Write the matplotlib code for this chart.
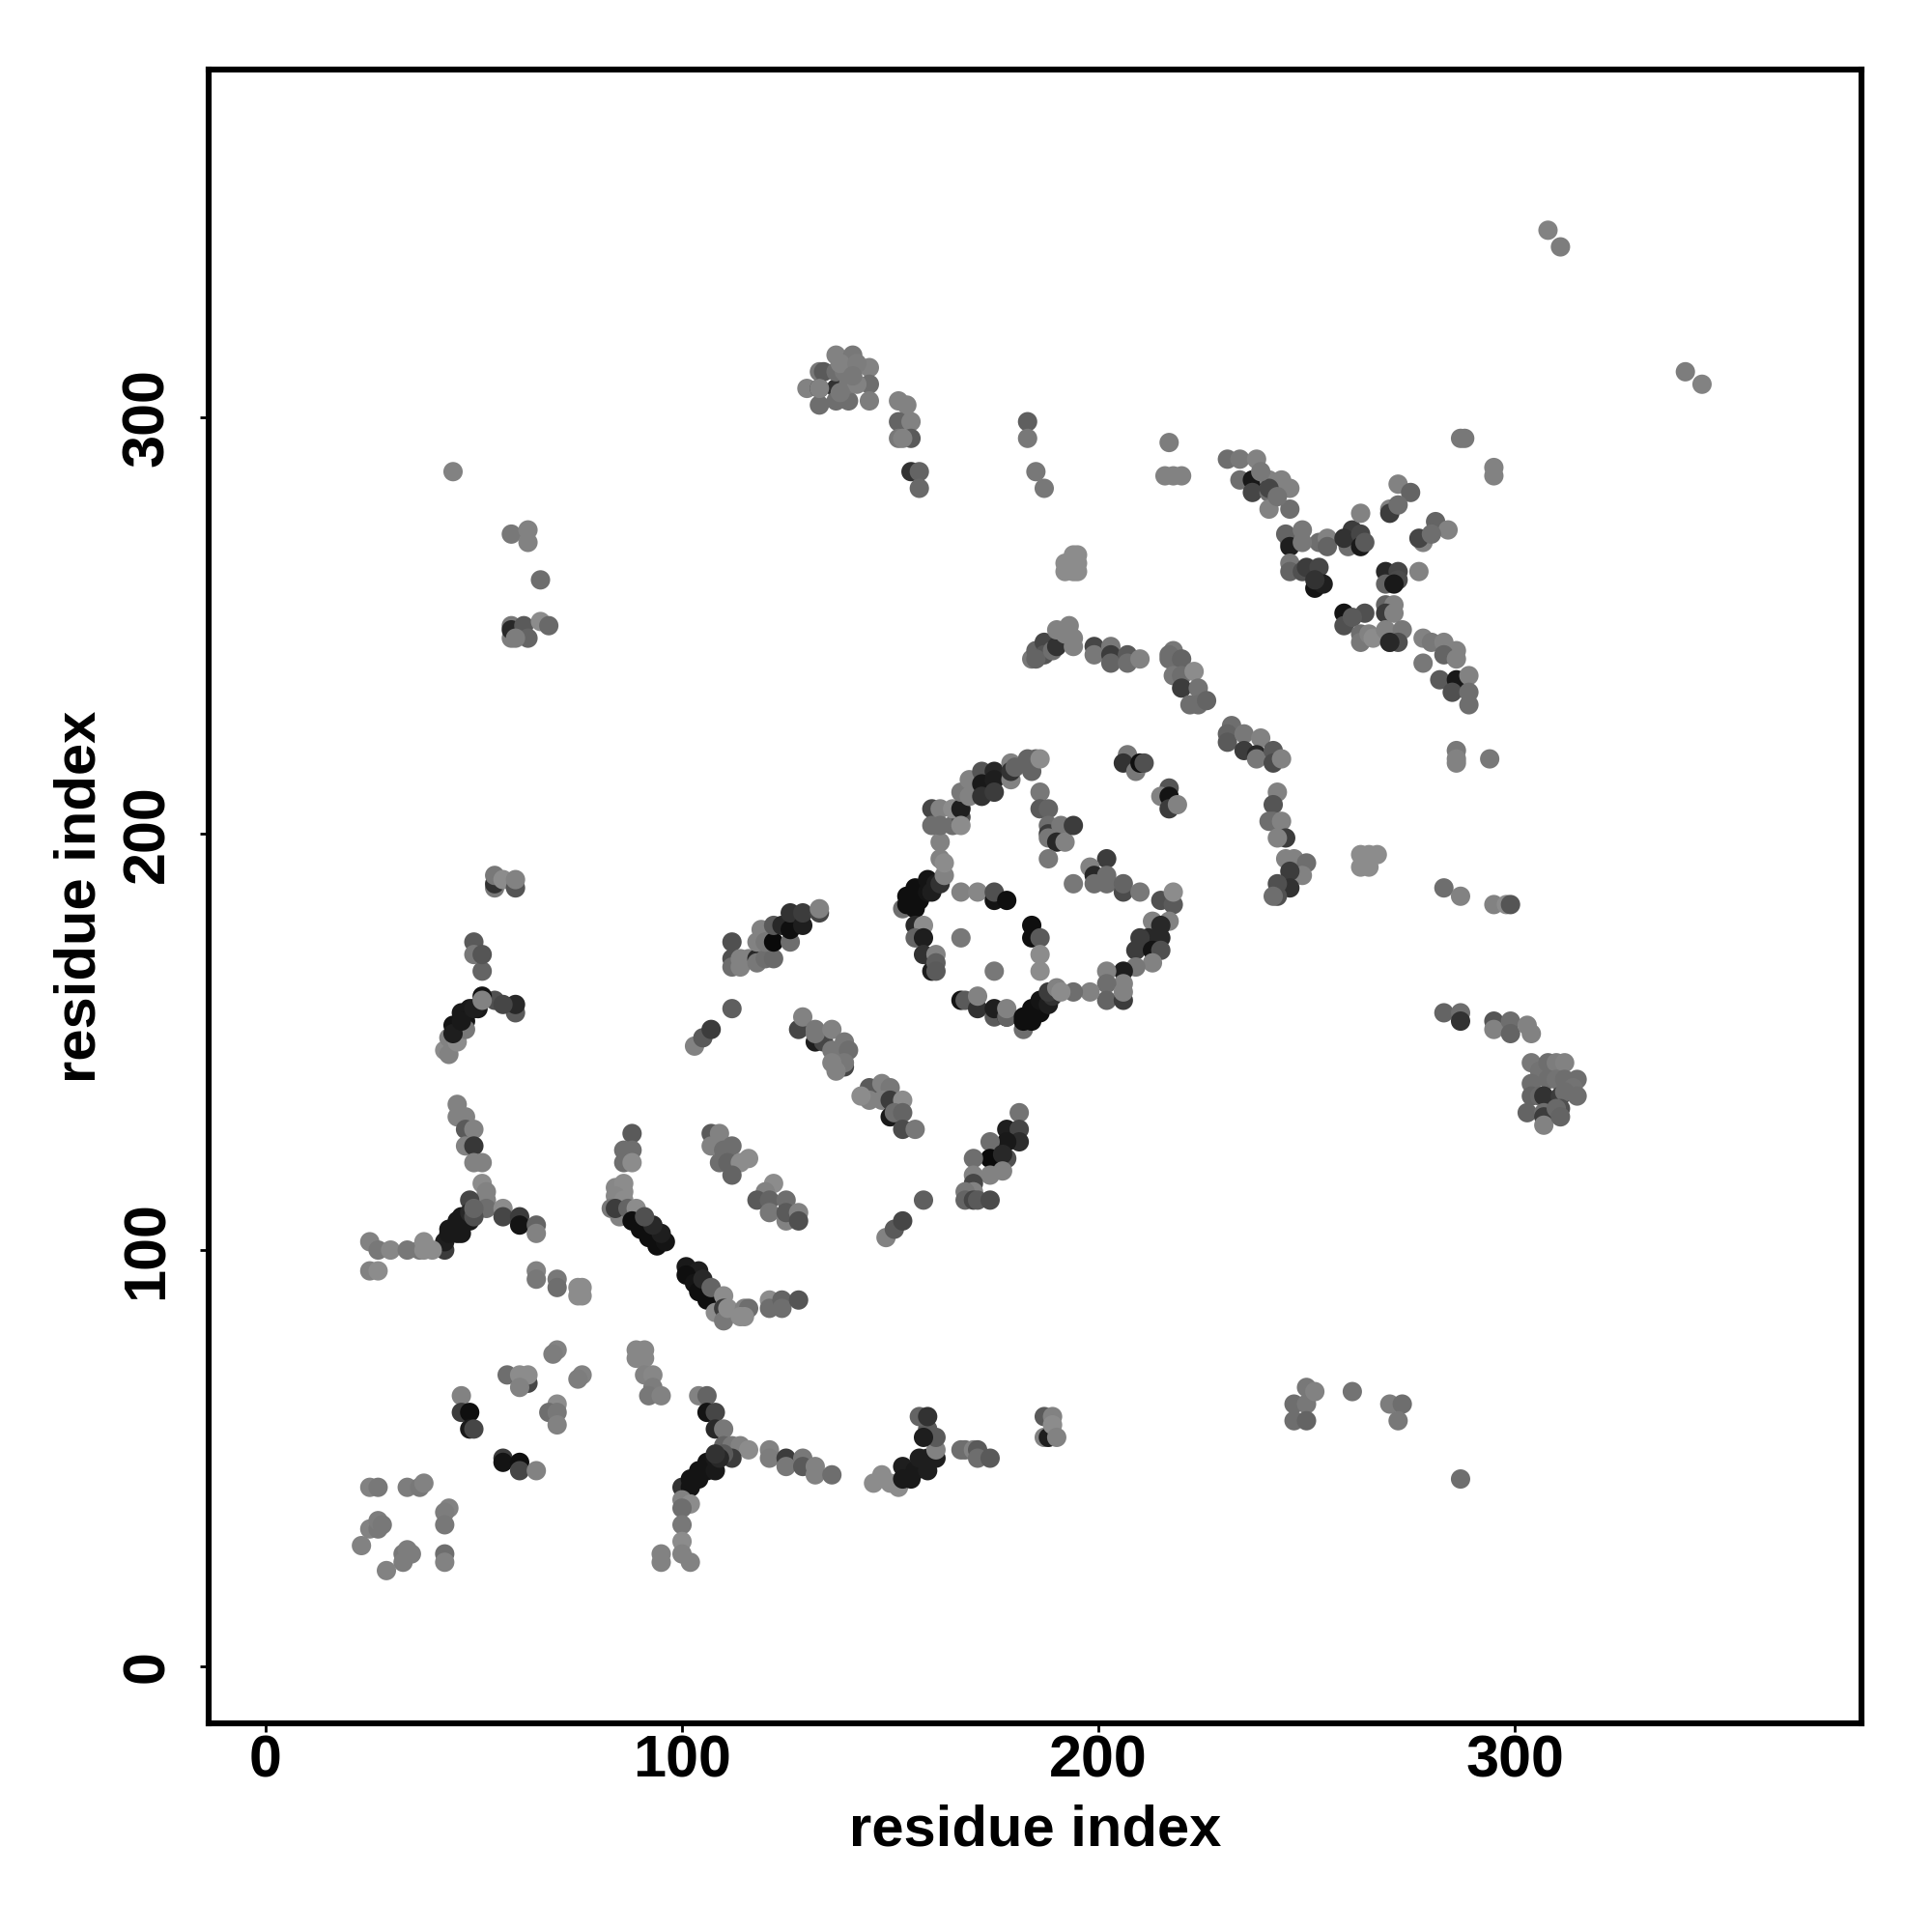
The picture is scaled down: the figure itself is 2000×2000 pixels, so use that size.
import matplotlib
matplotlib.use("Agg")
import matplotlib.pyplot as plt
import numpy as np

# contacts, grouped by region: x residue, y residue, grey level
x_sparse = [308,311,341,345,45,59,63,63,66,217,216,218,220,287,288,295,295,183,183,185,187,155,157,157,
            287,247,247,250,250,250,252,261,270,273,272,283,287,295,298,299,286,286,286,294]
y_sparse = [345,341,311,308,287,272,270,273,261,294,286,286,286,295,295,288,286,299,295,287,283,287,287,283,
            45,63,59,63,59,67,66,66,63,63,59,187,185,183,183,183,220,218,217,218]
g_sparse = [130,125,125,130,130,120,130,130,110,125,130,130,130,120,120,130,130,95,120,120,120,50,100,105,
            110,110,110,120,100,120,130,115,125,110,120,110,130,130,140,85,120,130,130,120]

x_topleft = [130,133,134,133,133,137,137,133,137,139,141,137,140,140,145,145,145,142,138,142,141,138,152,154,152,155,152,155,153]
y_topleft = [307,311,311,307,303,307,311,307,315,311,315,304,304,308,312,308,304,308,313,313,310,306,304,303,299,299,295,295,295]
g_topleft = [130,120,90,60,110,50,110,130,130,120,120,110,110,120,130,110,125,130,130,125,120,120,130,130,100,130,120,90,130]

x_stem_left = [59,59,59,62,63,66,68,60,55,55,55,57,60,60,50,50,52,52]
y_stem_left = [250,247,249,250,247,251,250,247,187,188,190,189,187,189,174,171,167,171]
g_stem_left = [120,125,40,90,100,140,105,125,120,50,120,140,85,130,90,120,100,85]

x_bend = [43,44,44,46,60,60,55,57,52,49,47,45,51,48,48,45,47,50,52]
y_bend = [148,147,151,150,157,159,160,159,161,158,157,154,158,155,153,152,155,158,160]
g_bend = [140,130,130,140,90,40,80,70,20,25,25,20,25,20,120,30,25,30,130]

x_yleft = [46,46,48,48,50,48,50,50,52,52,53,53,53,49,57,57,61,61,65,65,
           43,43,44,44,46,46,47,47,49,49,50,50,
           25,27,30,34,37,38,38,40,25,27,65,65,70,70,75,76,75,76]
y_yleft = [135,132,132,129,129,125,125,121,121,116,114,112,110,112,110,108,108,106,106,104,
           100,102,104,105,104,107,104,108,107,109,108,110,
           102,100,100,100,100,102,100,100,95,95,95,93,93,91,91,91,89,89]
g_yleft = [130,130,130,90,130,130,55,130,130,140,130,130,110,70,140,70,60,20,100,130,
           60,30,25,25,25,25,25,25,25,40,80,100,
           130,120,135,120,120,140,140,140,130,140,130,120,120,110,140,140,140,140]

x_lowleft = [70,69,76,75,58,63,61,63,61,70,68,70,70,47,47,49,49,50,57,57,61,61,65,
             25,27,34,37,38,44,43,43,25,27,27,28,23,33,34,35,33,29,43,43]
y_lowleft = [76,75,70,69,70,68,70,70,67,63,61,61,58,65,61,61,57,57,50,49,49,47,47,
             43,43,43,43,44,38,37,34,33,33,35,34,29,27,28,27,25,23,27,25]
g_lowleft = [130,125,130,125,110,70,140,140,130,140,110,120,130,130,60,15,25,70,60,20,15,70,130,
             130,120,125,120,130,130,125,120,130,120,125,120,130,120,125,125,125,130,110,130]

x_gap = [89,91,89,91,91,93,93,92,95]
y_gap = [76,76,74,74,70,70,67,65,65]
g_gap = [135,135,135,135,130,135,125,120,130]

x_band = [88,86,88,86,88,84,86,86,84,86,83,85,84,87,89,
          88,90,92,94,96,95,93,91,
          101,104,101,103,104,106,105,107,110,108,110,110,111,115,116,114,115,
          121,121,124,124,128]
y_band = [128,124,124,121,121,115,116,114,113,112,110,108,110,110,110,
          107,105,103,101,102,104,106,108,
          96,95,94,92,90,88,93,91,89,85,86,83,86,86,86,84,84,
          88,86,88,86,88]
g_band = [90,110,110,110,140,135,140,140,135,140,120,130,60,100,140,
          15,15,15,15,20,30,40,80,
          25,30,15,20,15,15,40,100,140,140,60,120,140,130,110,140,140,
          140,110,100,110,85]

x_arc1 = [107,109,107,112,110,109,111,114,116,112,122,120,118,121,125,121,125,125,128,128]
y_arc1 = [128,128,125,125,124,121,121,121,122,118,116,114,112,112,112,109,107,109,109,107]
g_arc1 = [90,130,130,110,110,110,100,140,140,100,140,130,90,100,110,120,130,90,130,80]

x_yright = [104,106,106,108,108,110,110,112,114,116,112,110,
            100,102,102,104,104,106,106,108,108,109,108,
            100,102,100,100,100,100,102,95,95,
            121,121,125,125,129,129,132,132,136]
y_yright = [65,65,61,61,57,57,53,53,53,52,50,51,
            43,43,45,45,47,47,49,47,50,50,51,
            40,39,38,34,30,27,25,27,25,
            52,50,50,48,50,48,48,46,46]
g_yright = [130,100,20,70,40,120,100,120,130,140,60,90,
            50,20,20,20,20,20,20,25,25,40,50,
            130,140,110,120,140,130,130,130,130,
            130,125,60,120,120,90,130,130,110]

x_bottom = [146,148,150,152,153,153,155,156,157,159,161,159,161,161,159,157,159,158,
            167,168,170,171,171,174,187,189,187,188,189,190]
y_bottom = [44,46,44,43,48,45,45,47,50,47,50,50,52,55,57,60,60,55,
            52,52,52,52,50,50,60,60,55,55,58,55]
g_bottom = [140,140,140,140,30,25,25,25,30,30,30,30,130,90,90,100,50,30,
            110,110,130,90,110,90,90,130,130,30,140,130]

x_cross = [181,178,181,181,178,174,174,178,177,177,174,170,170,170,170,168,168,170,171,174,158,149,151,153]
y_cross = [133,129,129,126,126,126,122,122,123,119,118,122,118,116,114,114,112,112,112,112,112,103,105,107]
g_cross = [115,30,70,45,25,110,10,80,40,130,130,110,130,70,130,120,100,70,90,75,95,130,90,70]

x_fan = [103,105,107,112,112,112,112,114,114,116,118,118,120,122,119,118,120,122,122,124,126,126,126,129,129,133,133]
y_fan = [149,151,153,158,174,170,168,168,170,170,170,169,170,170,177,174,174,174,178,178,174,177,181,178,181,181,182]
g_fan = [130,90,60,95,80,80,110,130,130,130,40,120,110,105,130,130,120,10,90,40,110,15,50,30,60,70,130]

x_mid = [128,129,132,132,134,132,136,136,139,140,139,139,136,137,
         145,145,143,148,150,148,150,153,150,151,153,153,156]
y_mid = [153,156,153,150,150,152,153,148,150,148,144,145,145,143,
         139,136,137,140,139,136,136,136,132,133,133,129,129]
g_mid = [70,130,120,30,70,120,130,120,120,110,70,120,130,130,
         90,130,140,130,120,130,60,140,25,110,100,75,120]

x_ring_left = [153,154,154,156,156,157,159,159,160,161,162,163,162,163,162,
               156,158,156,158,158,161,160,161,161]
y_ring_left = [182,185,183,187,182,184,189,186,186,188,188,190,194,193,198,
               178,178,175,175,171,171,167,169,167]
g_ring_left = [110,15,15,15,15,15,20,20,30,30,50,130,130,140,130,
               40,140,100,30,50,130,30,95,90]

x_ring_top = [160,160,162,162,165,167,165,167,167,167,169,169,172,172,172,175,175,175,179,179,179,180,183,184,185,186]
y_ring_top = [206,202,206,202,202,204,206,206,202,210,213,209,215,212,209,215,213,210,217,213,215,216,218,215,218,218]
g_ring_top = [70,110,130,110,110,80,140,30,140,120,130,130,85,25,50,40,30,60,130,130,50,100,100,100,100,140]

x_inner = [167,171,175,175,178,167,175,184,184,186,186,186,
           186,186,188,188,188,188,191,190,192,194,188,
           202,198,199,202,199,202,194,206,206,210]
y_inner = [186,186,184,186,184,175,167,178,175,175,171,167,
           210,206,206,202,200,199,202,198,198,202,194,
           194,192,190,190,188,188,188,186,188,186]
g_inner = [130,135,20,80,15,120,120,15,15,90,140,140,
           120,90,100,110,60,120,120,40,130,60,120,
           60,130,40,110,110,110,120,75,100,120]

x_ring_right = [215,218,218,213,217,215,215,212,210,209,213,215,213,209,206,206,202,202,202,206,206,198,194]
y_ring_right = [184,183,186,179,179,178,175,175,175,172,172,172,169,168,167,164,167,164,160,160,162,162,162]
g_ring_right = [80,90,140,130,130,40,40,40,60,60,20,80,130,120,30,130,130,110,100,60,130,130,110]

x_ring_bot = [167,168,171,171,175,175,178,178,178,
              182,182,182,184,184,186,186,188,189,188,190,191]
y_ring_bot = [160,160,158,161,156,158,156,156,158,
              153,155,156,155,158,157,160,159,161,162,163,162]
g_ring_bot = [20,90,50,130,90,30,20,100,130,
              110,15,15,15,15,15,20,30,50,60,130,140]

x_upper = [184,185,187,187,185,189,190,190,193,192,194,194,199,199,203,203,203,207,207,210,
           218,217,217,220,218,220,223,220,224,222,224,226,
           232,231,231,235,235,239,238,238,242,242,244]
y_upper = [242,244,246,243,242,244,245,249,250,248,247,245,245,243,245,243,241,243,241,242,
           244,243,242,242,238,238,239,235,235,231,231,232,
           226,224,222,224,220,223,219,218,220,217,218]
g_upper = [120,100,70,85,100,110,50,130,130,130,130,130,70,120,120,60,100,90,110,130,
           120,110,110,100,120,110,140,60,115,110,110,100,
           110,100,90,120,60,130,40,120,90,75,130]

x_small = [207,206,209,210,211,217,215,217,217,219]
y_small = [219,217,215,217,217,211,209,209,206,207]
g_small = [120,50,120,15,80,85,130,20,60,130]

x_right = [243,242,242,241,244,245,243,245,247,250,249,246,246,243,243,242]
y_right = [210,207,203,203,203,199,199,194,194,193,190,191,187,188,185,185]
g_right = [130,85,110,110,130,60,130,130,130,110,130,60,50,80,80,110]

x_patch = [263,263,265,267,265,192,194,195,192,194,195,195]
y_patch = [195,192,192,195,195,265,267,267,263,263,263,265]
g_patch = [140,140,140,140,140,140,140,140,140,140,140,140]

x_lower_right = [283,287,287,295,295,299,299,303,304,304,306,308,310,312,304,308,310,312,315,314,304,306,307,311,315,312,303,307,307,311,310,307,311]
y_lower_right = [157,157,155,155,153,155,152,154,152,145,143,145,145,145,140,141,141,141,141,139,137,137,137,137,137,138,133,133,132,134,134,130,132]
g_lower_right = [100,110,50,85,130,110,100,130,130,120,115,110,125,130,110,110,115,110,110,115,100,105,50,60,110,110,100,110,60,80,105,130,100]

x_x_top = [231,234,238,234,237,241,244,237,241,246,241,246,241,243,239]
y_x_top = [290,290,290,285,285,285,285,282,282,283,278,278,283,281,287]
g_x_top = [110,120,130,110,25,130,130,70,110,130,130,110,70,115,120]

x_x_mid = [245,246,249,253,255,246,249,255,246,246,249,250,253,252,254,252]
y_x_mid = [272,270,273,270,271,269,270,269,265,263,263,264,264,259,260,261]
g_x_mid = [100,100,120,110,130,30,120,100,120,100,80,60,70,20,30,50]

x_x_core = [260,261,259,263,263,264,263,272,275,270,270,272,281,284,278,277,280,
            269,272,269,272,271,277]
y_x_core = [269,273,271,272,269,270,277,284,282,278,277,279,275,273,270,271,272,
            263,263,260,261,260,263]
g_x_core = [110,60,50,70,25,90,130,130,100,130,60,110,100,130,130,70,110,
            40,70,100,75,25,130]

x_x_low = [259,259,264,261,263,263,265,266,269,271,269,271,269,270,273,272,270,
           278,278,280,283,286,283,286,282,286,285,289,289,289]
y_x_low = [253,250,253,252,248,246,248,247,255,255,253,253,249,246,249,246,246,
           247,241,246,246,244,243,242,237,237,234,238,234,231]
g_x_low = [20,80,80,90,110,120,130,140,100,130,60,130,130,120,120,80,40,
           130,120,120,130,130,100,130,90,25,80,130,110,110]

x_all = (x_sparse + x_topleft + x_stem_left + x_bend + x_yleft + x_lowleft + x_gap + x_band + x_arc1 + x_yright
         + x_bottom + x_cross + x_fan + x_mid + x_ring_left + x_ring_top + x_inner + x_ring_right + x_ring_bot
         + x_upper + x_small + x_right + x_patch + x_lower_right + x_x_top + x_x_mid + x_x_core + x_x_low)
y_all = (y_sparse + y_topleft + y_stem_left + y_bend + y_yleft + y_lowleft + y_gap + y_band + y_arc1 + y_yright
         + y_bottom + y_cross + y_fan + y_mid + y_ring_left + y_ring_top + y_inner + y_ring_right + y_ring_bot
         + y_upper + y_small + y_right + y_patch + y_lower_right + y_x_top + y_x_mid + y_x_core + y_x_low)
g_all = (g_sparse + g_topleft + g_stem_left + g_bend + g_yleft + g_lowleft + g_gap + g_band + g_arc1 + g_yright
         + g_bottom + g_cross + g_fan + g_mid + g_ring_left + g_ring_top + g_inner + g_ring_right + g_ring_bot
         + g_upper + g_small + g_right + g_patch + g_lower_right + g_x_top + g_x_mid + g_x_core + g_x_low)

plt.rcParams["font.family"] = ["Liberation Sans", "DejaVu Sans"]
plt.rcParams["font.weight"] = "bold"

fig = plt.figure(figsize=(10, 10), dpi=200)
ax = fig.add_axes([0.108, 0.108, 0.8555, 0.856])

colors = [(g / 255, g / 255, g / 255) for g in g_all]
ax.scatter(x_all, y_all, s=52, c=colors, linewidths=0, zorder=3)

ax.set_xlim(-13.7, 383.3)
ax.set_ylim(-13.7, 383.6)
ax.set_xticks([0, 100, 200, 300])
ax.set_yticks([0, 100, 200, 300])

for s in ax.spines.values():
    s.set_linewidth(2.2)

ax.tick_params(axis="x", length=3.2, width=1, labelsize=22, pad=1)
ax.tick_params(axis="y", length=3.2, width=1, labelsize=22, pad=9)
for t in ax.get_yticklabels():
    t.set_rotation(90)
    t.set_va("center")

ax.set_xlabel("residue index", fontsize=21.5, fontweight="bold", va="center")
ax.set_ylabel("residue index", fontsize=21.5, fontweight="bold", va="center")
ax.xaxis.set_label_coords(0.5, -0.065)
ax.yaxis.set_label_coords(-0.078, 0.5)

fig.savefig("out.png", dpi=200, facecolor="white")
